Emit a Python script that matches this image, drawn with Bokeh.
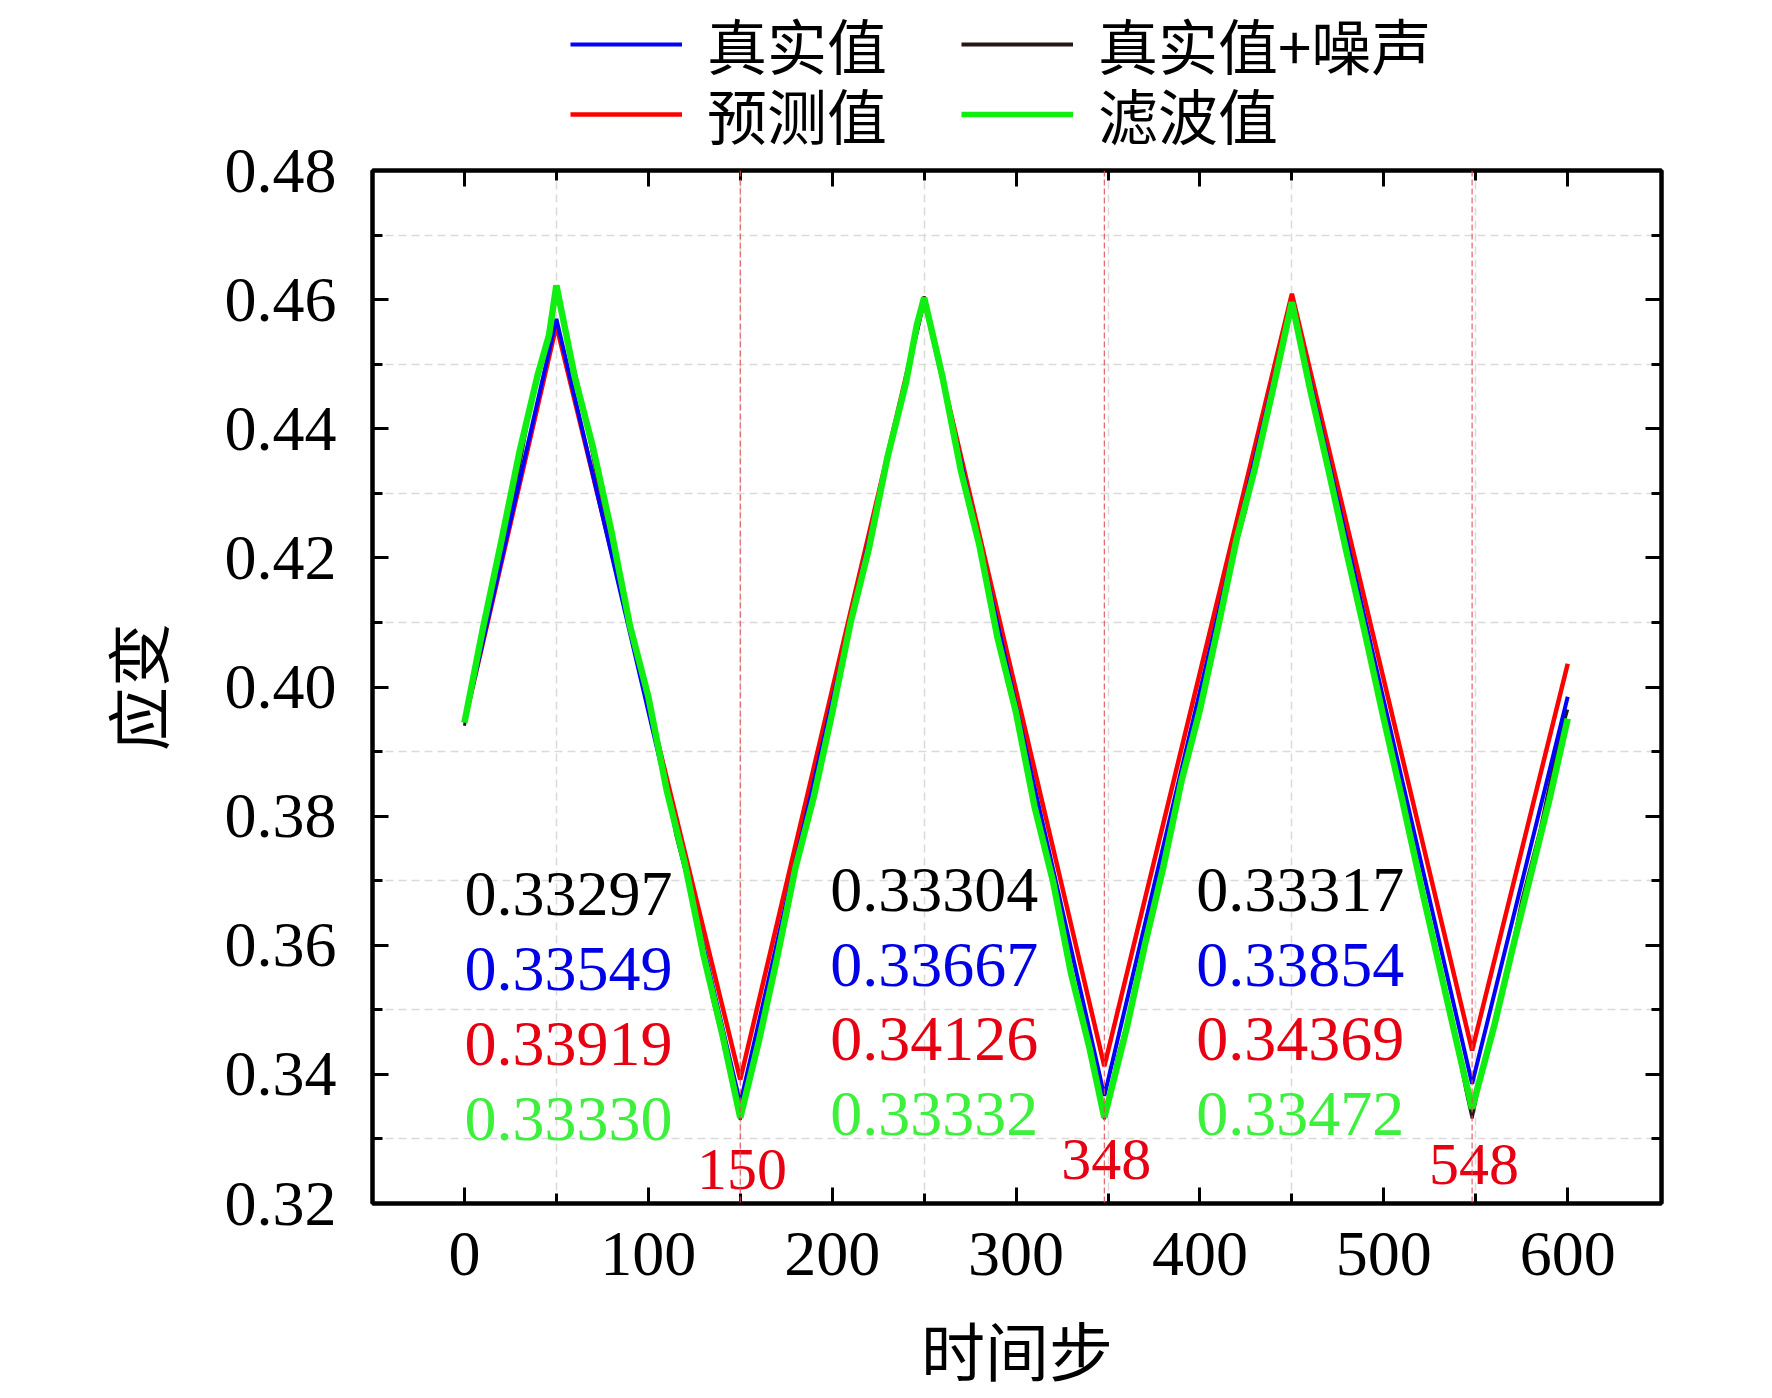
from bokeh.plotting import figure
from bokeh.layouts import column
from bokeh.models import (Range1d, FixedTicker, PrintfTickFormatter, LinearAxis, Span,
                          Legend, LegendItem, ColumnDataSource, CustomJSTickFormatter)
from bokeh.core.properties import value
from bokeh.embed import file_html
from bokeh.resources import INLINE

# ---------------- data ----------------
# 真实值 (true value)
TRUE_T = [0, 50, 150, 250, 348, 450, 548, 600]
TRUE_V = [0.3945, 0.4570, 0.33549, 0.4600, 0.33667, 0.4596, 0.33854, 0.3985]

# 预测值 (predicted value)
PRED_T = [0, 50, 150, 250, 348, 450, 548, 600]
PRED_V = [0.3945, 0.4560, 0.33919, 0.4600, 0.34126, 0.4609, 0.34369, 0.4036]

# 真实值+噪声 (true value + noise)
NOISY_T = [0, 15, 25, 35, 45, 50,
           65, 75, 85, 95, 105, 115, 125, 135, 145, 150,
           165, 175, 185, 195, 205, 215, 225, 235, 245, 250,
           265, 275, 285, 295, 305, 315, 325, 335, 345, 348,
           355, 365, 375, 385, 395, 405, 415, 425, 435, 445, 450,
           455, 465, 475, 485, 495, 505, 515, 525, 535, 545, 548,
           555, 565, 575, 585, 595, 600]
NOISY_V = [0.3940, 0.4150, 0.4265, 0.4420, 0.4535, 0.4610,
           0.4430, 0.4280, 0.4175, 0.4025, 0.3915, 0.3770, 0.3660, 0.3515, 0.3400, 0.33297,
           0.3530, 0.3640, 0.3785, 0.3895, 0.4040, 0.4150, 0.4295, 0.4405, 0.4550, 0.4605,
           0.4420, 0.4270, 0.4160, 0.4010, 0.3900, 0.3750, 0.3640, 0.3490, 0.3380, 0.33304,
           0.3425, 0.3530, 0.3675, 0.3780, 0.3920, 0.4030, 0.4170, 0.4275, 0.4415, 0.4525, 0.4595,
           0.4540, 0.4395, 0.4285, 0.4135, 0.4025, 0.3880, 0.3770, 0.3625, 0.3510, 0.3370, 0.33317,
           0.3425, 0.3530, 0.3670, 0.3780, 0.3915, 0.3965]

# 滤波值 (filtered value)
FILT_T = [0, 10, 20, 30, 40, 46, 50,
          60, 70, 80, 90, 100, 110, 120, 130, 140, 150,
          160, 170, 180, 190, 200, 210, 220, 230, 240, 246, 250,
          260, 270, 280, 290, 300, 310, 320, 330, 340, 348,
          360, 370, 380, 390, 400, 410, 420, 430, 440, 450,
          460, 470, 480, 490, 500, 510, 520, 530, 540, 548,
          560, 570, 580, 590, 600]
FILT_V = [0.3945, 0.4090, 0.4225, 0.4365, 0.4485, 0.4545, 0.4622,
          0.4480, 0.4370, 0.4240, 0.4095, 0.3985, 0.3840, 0.3725, 0.3585, 0.3465, 0.33330,
          0.3450, 0.3580, 0.3720, 0.3830, 0.3960, 0.4100, 0.4215, 0.4355, 0.4470, 0.4560, 0.4603,
          0.4480, 0.4335, 0.4220, 0.4075, 0.3960, 0.3815, 0.3700, 0.3555, 0.3440, 0.33332,
          0.3470, 0.3600, 0.3720, 0.3855, 0.3965, 0.4095, 0.4230, 0.4340, 0.4465, 0.4596,
          0.4460, 0.4335, 0.4205, 0.4080, 0.3950, 0.3825, 0.3695, 0.3570, 0.3445, 0.33472,
          0.3475, 0.3595, 0.3710, 0.3825, 0.3951]

# minimum values annotated near each trough
EVENT_STEPS = [150, 348, 548]
MIN_NOISY = ["0.33297", "0.33304", "0.33317"]
MIN_TRUE = ["0.33549", "0.33667", "0.33854"]
MIN_PRED = ["0.33919", "0.34126", "0.34369"]
MIN_FILT = ["0.33330", "0.33332", "0.33472"]

X_MAJOR = [0, 100, 200, 300, 400, 500, 600]
X_MINOR = [50, 150, 250, 350, 450, 550]
Y_MAJOR = [0.32, 0.34, 0.36, 0.38, 0.40, 0.42, 0.44, 0.46, 0.48]
Y_MINOR = [0.33, 0.35, 0.37, 0.39, 0.41, 0.43, 0.45, 0.47]

# ---------------- styling ----------------
C_BLUE = "#0000ff"
C_BLACK = "#231815"
C_RED = "#ff0000"
C_GREEN = "#11ee11"
T_BLUE = "#0000e6"
T_RED = "#e60012"
T_GREEN = "#3cf03c"
SERIF = "Liberation Serif"
CJK = "Noto Sans CJK SC"
W_BLACK, W_RED, W_BLUE, W_GREEN = 3, 4.5, 4, 6.5

LEG_H = 170      # height of the legend strip
OVERLAP = 50     # main plot's top border slides under the legend strip

p = figure(width=1772, height=1398 - LEG_H + OVERLAP,
           x_range=Range1d(-50, 651), y_range=Range1d(0.32, 0.48),
           output_backend="svg", toolbar_location=None,
           min_border_left=372, min_border_right=111, min_border_top=OVERLAP, min_border_bottom=195,
           x_axis_label="时间步", y_axis_label="应变")
p.styles = {"margin-top": f"-{OVERLAP}px"}
p.background_fill_color = "white"
p.border_fill_alpha = 0
p.outline_line_color = "black"
p.outline_line_width = 4

# grid at minor positions, dashed light gray
p.xgrid.ticker = FixedTicker(ticks=X_MINOR)
p.ygrid.ticker = FixedTicker(ticks=Y_MINOR)
for g in (p.xgrid, p.ygrid):
    g.grid_line_color = "#dadada"
    g.grid_line_dash = "8 5"
    g.grid_line_width = 1.5


def style_axis(ax, show_labels):
    ax.axis_line_color = "black"
    ax.axis_line_width = 4
    ax.major_tick_line_color = "black"
    ax.major_tick_line_width = 3
    ax.minor_tick_line_color = "black"
    ax.minor_tick_line_width = 3
    ax.major_tick_in = 16
    ax.major_tick_out = 0
    ax.minor_tick_in = 10
    ax.minor_tick_out = 0
    if show_labels:
        ax.major_label_text_font = SERIF
        ax.major_label_text_font_size = "64px"
        ax.major_label_text_color = "black"
        ax.axis_label_text_font = CJK
        ax.axis_label_text_font_size = "64px"
        ax.axis_label_text_font_style = "normal"
        ax.axis_label_text_color = "black"
    else:
        ax.formatter = CustomJSTickFormatter(code="return ''")
        ax.major_label_standoff = 0


p.xaxis.ticker = FixedTicker(ticks=X_MAJOR, minor_ticks=X_MINOR)
p.yaxis.ticker = FixedTicker(ticks=Y_MAJOR, minor_ticks=Y_MINOR)
p.yaxis.formatter = PrintfTickFormatter(format="%.2f")
style_axis(p.xaxis[0], True)
style_axis(p.yaxis[0], True)
p.xaxis.major_label_standoff = 29
p.xaxis.axis_label_standoff = 24
p.yaxis.major_label_standoff = 36
p.yaxis.axis_label_standoff = 41

top_ax = LinearAxis(ticker=FixedTicker(ticks=X_MAJOR, minor_ticks=X_MINOR))
style_axis(top_ax, False)
p.add_layout(top_ax, "above")
right_ax = LinearAxis(ticker=FixedTicker(ticks=Y_MAJOR, minor_ticks=Y_MINOR))
style_axis(right_ax, False)
p.add_layout(right_ax, "right")

# vertical event markers
for s in EVENT_STEPS:
    p.add_layout(Span(location=s, dimension="height", line_color="#e0505c",
                      line_dash="6 3", line_width=1.2, line_alpha=0.9))

# series
p.line(NOISY_T, NOISY_V, line_color=C_BLACK, line_width=W_BLACK)
p.line(PRED_T, PRED_V, line_color=C_RED, line_width=W_RED)
p.line(TRUE_T, TRUE_V, line_color=C_BLUE, line_width=W_BLUE)
p.line(FILT_T, FILT_V, line_color=C_GREEN, line_width=W_GREEN)

# annotations with minimum values
SHIFT = 0.0028
col_x = [0, 199, 398]
row_y_first = [0.36507, 0.35346, 0.34184, 0.33022]
row_y_other = [0.36577, 0.35415, 0.34262, 0.33100]
ax_, ay_, at_, ac_ = [], [], [], []
for i in range(3):
    rows = row_y_first if i == 0 else row_y_other
    for txt_list, col, yy in zip((MIN_NOISY, MIN_TRUE, MIN_PRED, MIN_FILT),
                                 ("black", T_BLUE, T_RED, T_GREEN), rows):
        ax_.append(col_x[i])
        ay_.append(yy + SHIFT)
        at_.append(txt_list[i])
        ac_.append(col)
ann = ColumnDataSource(dict(x=ax_, y=ay_, text=at_, color=ac_))
p.text(x="x", y="y", text="text", text_color="color", source=ann,
       text_font=value(SERIF), text_font_size=value("64px"),
       text_align="left", text_baseline="alphabetic")

ev_x = [s + 1 for s in EVENT_STEPS]
ev_y = [0.32248 + SHIFT, 0.32403 + SHIFT, 0.32325 + SHIFT]
ev = ColumnDataSource(dict(x=ev_x, y=ev_y, text=[str(s) for s in EVENT_STEPS]))
p.text(x="x", y="y", text="text", source=ev, text_color=T_RED,
       text_font=value(SERIF), text_font_size=value("60px"),
       text_align="center", text_baseline="alphabetic")

# ---------------- legend strip above the plot ----------------
lf = figure(width=1772, height=LEG_H, x_range=Range1d(0, 1), y_range=Range1d(2, 3),
            x_axis_type=None, y_axis_type=None, output_backend="svg", toolbar_location=None,
            min_border=0)
lf.outline_line_color = None
lf.grid.visible = False
lf.background_fill_color = "white"
lf.border_fill_color = "white"
# same series, outside this strip's visible range: only their legend glyphs show
lb = lf.line(TRUE_T, TRUE_V, line_color=C_BLUE, line_width=W_BLUE)
lk = lf.line(NOISY_T, NOISY_V, line_color=C_BLACK, line_width=W_BLACK + 1)
lr = lf.line(PRED_T, PRED_V, line_color=C_RED, line_width=W_RED)
lg = lf.line(FILT_T, FILT_V, line_color=C_GREEN, line_width=W_GREEN - 1)

ITEM_H = 80
common = dict(orientation="horizontal", padding=0, margin=0, spacing=0,
              glyph_width=112, glyph_height=ITEM_H, label_height=ITEM_H,
              label_standoff=25,
              label_text_font=CJK, label_text_font_size="60px", label_text_color="black",
              border_line_color=None, background_fill_alpha=0)
FRAME_L = 376    # the strip's frame is aligned with the main plot's frame
COL_X = [574 - FRAME_L, 965 - FRAME_L]
ROW_C = [47, 117]
entries = [("真实值", lb, 0, 0), ("真实值+噪声", lk, 1, 0),
           ("预测值", lr, 0, 1), ("滤波值", lg, 1, 1)]
for label, rend, ci, ri in entries:
    top = ROW_C[ri] - ITEM_H // 2
    lf.add_layout(Legend(items=[LegendItem(label=label, renderers=[rend])],
                         location=(COL_X[ci], LEG_H - top - ITEM_H), **common))

layout = column(lf, p, spacing=0)
open("out.html", "w").write(file_html(layout, INLINE))
